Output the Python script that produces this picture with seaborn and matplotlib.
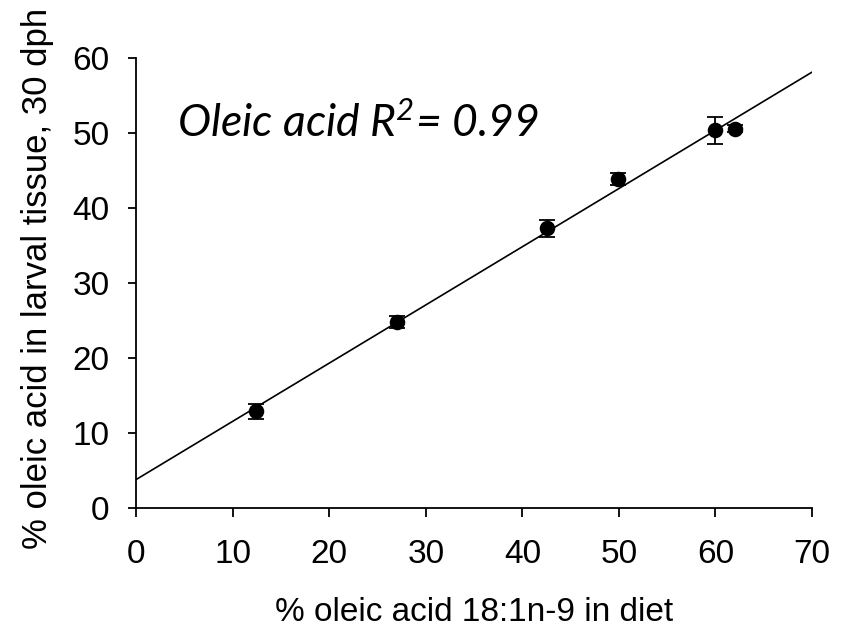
import numpy as np
import pandas as pd
import matplotlib
matplotlib.use('Agg')
import matplotlib.pyplot as plt
import seaborn as sns

# data
diet_oleic = [12.4, 27.0, 42.6, 49.9, 60.0, 62.0]
tissue_oleic = [12.9, 24.8, 37.3, 43.9, 50.4, 50.6]
tissue_err = [1.05, 0.8, 1.1, 0.8, 1.8, 0.5]

df = pd.DataFrame({'diet': diet_oleic, 'tissue': tissue_oleic, 'err': tissue_err})

sns.set_style('white')
plt.rcParams['font.family'] = ['Liberation Sans', 'DejaVu Sans']
plt.rcParams['text.color'] = 'black'
plt.rcParams['axes.labelcolor'] = 'black'
plt.rcParams['xtick.color'] = 'black'
plt.rcParams['ytick.color'] = 'black'
plt.rcParams['mathtext.fontset'] = 'custom'
plt.rcParams['mathtext.rm'] = 'Lato:italic'
plt.rcParams['mathtext.it'] = 'Lato:italic'

fig = plt.figure(figsize=(8.45, 6.32), dpi=100)
ax = fig.add_axes([0.161, 0.196, 0.800, 0.712])
ax.set_xlim(0, 70)
ax.set_ylim(0, 60)

# regression line across the full x range
sns.regplot(data=df, x='diet', y='tissue', ax=ax, ci=None, truncate=False,
            scatter_kws={'s': 125, 'color': 'black', 'edgecolor': 'black',
                         'linewidths': 0, 'alpha': 1, 'zorder': 3},
            line_kws={'color': 'black', 'lw': 1.2, 'zorder': 2})
ax.errorbar(df['diet'], df['tissue'], yerr=df['err'], fmt='none',
            ecolor='black', elinewidth=1.3, capsize=6, capthick=1.3, zorder=4)

ax.set_xlim(0, 70)
ax.set_ylim(0, 60)
ax.set_xticks(range(0, 71, 10))
ax.set_yticks(range(0, 61, 10))

for side in ['top', 'right']:
    ax.spines[side].set_visible(False)
for side in ['left', 'bottom']:
    ax.spines[side].set_color('black')
    ax.spines[side].set_linewidth(1.3)

ax.tick_params(axis='x', direction='out', length=6.5, width=1.3,
               labelsize=24, pad=16, bottom=True)
ax.tick_params(axis='y', direction='out', length=6, width=1.3,
               labelsize=24, pad=13, left=True)

ax.set_xlabel('% oleic acid 18:1n-9 in diet', fontsize=24)
ax.set_ylabel('% oleic acid in larval tissue, 30 dph', fontsize=25)
ax.xaxis.set_label_coords(0.5, -0.198)
ax.yaxis.set_label_coords(-0.121, 0.511)

ax.text(0.06, 0.824, r'Oleic acid R$^{2}$= 0.99', transform=ax.transAxes,
        fontsize=32, fontstyle='italic', family=['Lato', 'DejaVu Sans'],
        va='baseline', ha='left')

fig.savefig('out.png', dpi=100)
